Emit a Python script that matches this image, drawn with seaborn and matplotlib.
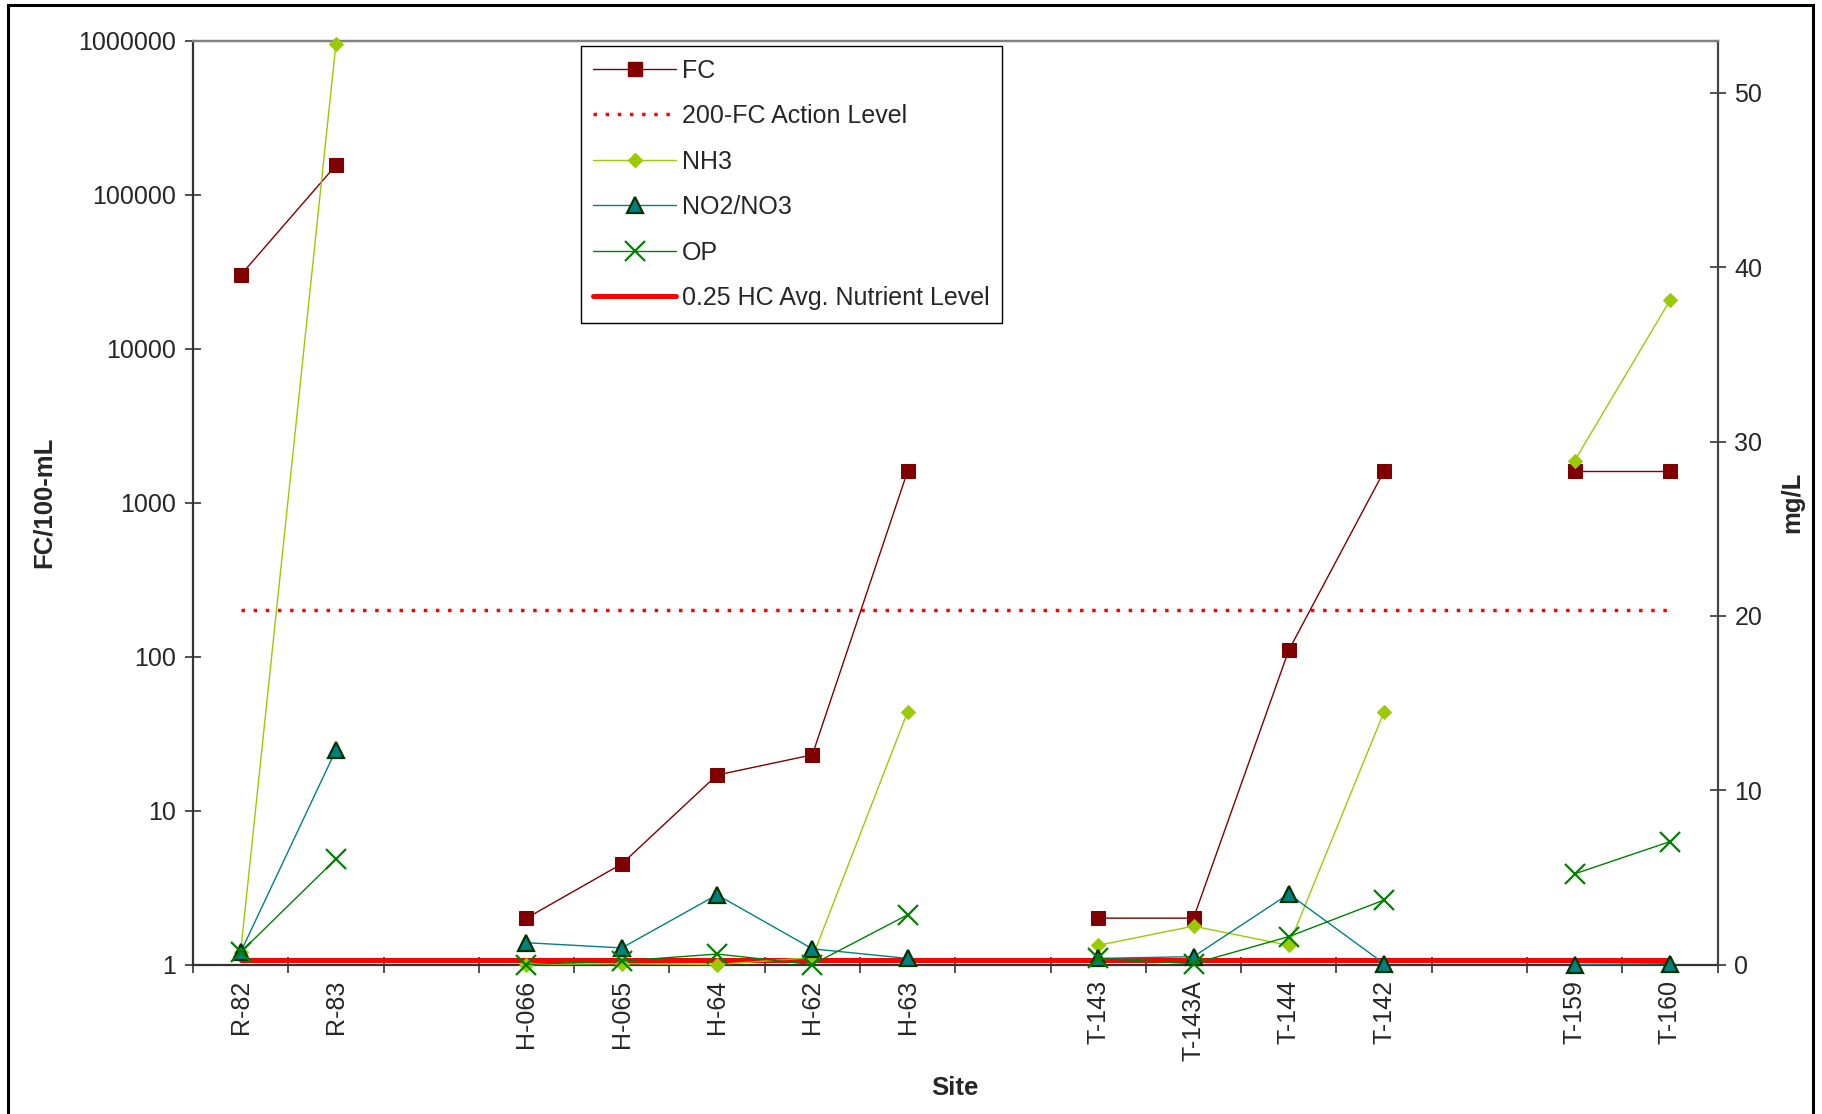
import numpy as np
import pandas as pd
import matplotlib
matplotlib.use("Agg")
import matplotlib.pyplot as plt
import seaborn as sns
from matplotlib.lines import Line2D
from matplotlib.patches import Rectangle
from matplotlib.ticker import FixedLocator, FixedFormatter, NullLocator

# ---------------- data ----------------
sites = ["R-82", "R-83", "", "H-066", "H-065", "H-64", "H-62", "H-63", "",
         "T-143", "T-143A", "T-144", "T-142", "", "T-159", "T-160"]
fc = [30000, 155000, np.nan, 2, 4.5, 17, 23, 1600, np.nan,
      2, 2, 110, 1600, np.nan, 1600, 1600]
action_level = [200] * 16
nh3 = [0.7, 52.8, np.nan, 0.0, 0.05, 0.0, 0.4, 14.5, np.nan,
       1.1, 2.2, 1.1, 14.5, np.nan, 28.9, 38.1]
no2no3 = [0.7, 12.3, np.nan, 1.25, 0.95, 4.0, 0.9, 0.35, np.nan,
          0.35, 0.45, 4.05, 0.05, np.nan, 0.0, 0.05]
op = [0.7, 6.05, np.nan, 0.0, 0.2, 0.6, 0.0, 2.85, np.nan,
      0.35, 0.05, 1.6, 3.7, np.nan, 5.2, 7.05]
hc_level = [0.25] * 16
left_ticks = [1, 10, 100, 1000, 10000, 100000, 1000000]
right_ticks = [0, 10, 20, 30, 40, 50]

# ---------------- style ----------------
sns.set_theme(style="white")
plt.rcParams["font.family"] = ["Liberation Sans", "DejaVu Sans"]
FS = 18

fig = plt.figure(figsize=(18.22, 11.14), dpi=100)
fig.patch.set_facecolor("white")
ax = fig.add_axes([0.1059, 0.1342, 0.8368, 0.8293])
ax.set_yscale("log")
ax2 = ax.twinx()

x = np.arange(len(sites))
seg = np.cumsum([s == "" for s in sites])


def draw(axis, values, broken=True, **kw):
    df = pd.DataFrame({"x": x, "y": values,
                       "seg": seg if broken else np.zeros(len(x), int)}).dropna()
    sns.lineplot(data=df, x="x", y="y", units="seg", estimator=None,
                 ax=axis, legend=False, **kw)


# left axis series
draw(ax, action_level, broken=False, color="#FF0000", lw=2.5,
     dashes=(1, 2.5), zorder=2)
draw(ax, fc, color="#800000", lw=1.0, marker="s", markersize=10,
     markerfacecolor="#800000", markeredgecolor="#800000", zorder=3)

# right axis series
draw(ax2, hc_level, broken=False, color="#FF0000", lw=3.6, zorder=1,
     clip_on=False)
draw(ax2, nh3, color="#99CC00", lw=1.0, marker="D", markersize=7.5,
     markerfacecolor="#99CC00", markeredgecolor="#99CC00", zorder=3,
     clip_on=False)
draw(ax2, no2no3, color="#008080", lw=1.0, marker="^", markersize=11.5,
     markerfacecolor="#008080", markeredgecolor="#003300", mew=1.6,
     zorder=4, clip_on=False)
draw(ax2, op, color="#008000", lw=1.0, marker="x", markersize=14,
     markeredgecolor="#008000", mew=1.6, zorder=5, clip_on=False)

# ---------------- axes ----------------
ax.set_xlim(-0.5, len(sites) - 0.5)
ax.set_ylim(1, 1e6)
ax2.set_ylim(0, 53)

lab_pos = [i for i, s in enumerate(sites) if s]
ax.xaxis.set_major_locator(FixedLocator(lab_pos))
ax.xaxis.set_major_formatter(FixedFormatter([sites[i] for i in lab_pos]))
ax.xaxis.set_minor_locator(FixedLocator(np.arange(-0.5, len(sites), 1.0)))
ax.tick_params(axis="x", which="major", length=0, labelsize=FS,
               labelrotation=90, pad=11, bottom=True)
ax.tick_params(axis="x", which="minor", direction="inout", length=12,
               width=1.2, color="#333333", bottom=True)

ax.yaxis.set_major_locator(FixedLocator(left_ticks))
ax.yaxis.set_major_formatter(FixedFormatter([str(t) for t in left_ticks]))
ax.yaxis.set_minor_locator(NullLocator())
ax.tick_params(axis="y", which="major", direction="inout", length=12,
               width=1.2, color="#333333", labelsize=FS, pad=6, left=True)

ax2.yaxis.set_major_locator(FixedLocator(right_ticks))
ax2.yaxis.set_major_formatter(FixedFormatter([str(t) for t in right_ticks]))
ax2.tick_params(axis="y", which="major", direction="inout", length=12,
                width=1.2, color="#333333", labelsize=FS, pad=6, right=True)

for name in ["left", "bottom"]:
    ax.spines[name].set_color("#333333")
    ax.spines[name].set_linewidth(1.6)
ax.spines["top"].set_color("#808080")
ax.spines["top"].set_linewidth(1.6)
ax.spines["right"].set_visible(False)
for name in ["left", "bottom"]:
    ax2.spines[name].set_visible(False)
ax2.spines["top"].set_color("#808080")
ax2.spines["top"].set_linewidth(1.6)
ax2.spines["right"].set_color("#444444")
ax2.spines["right"].set_linewidth(1.6)

ax.set_xlabel("Site", fontsize=FS + 0.5, fontweight="bold")
ax.xaxis.label.set_va("center")
ax.xaxis.set_label_coords(0.5, -0.1337)
ax.set_ylabel("FC/100-mL", fontsize=FS + 0.5, fontweight="bold")
ax.yaxis.label.set_va("center")
ax.yaxis.set_label_coords(-0.0977, 0.5)
ax2.set_ylabel("mg/L", fontsize=FS + 0.5, fontweight="bold")
ax2.yaxis.label.set_va("center")
ax2.yaxis.set_label_coords(1.0489, 0.5)

# ---------------- legend ----------------
handles = [
    Line2D([], [], color="#800000", lw=1.0, marker="s", markersize=10,
           markerfacecolor="#800000", markeredgecolor="#800000"),
    Line2D([], [], color="#FF0000", lw=2.5, dashes=(1, 2.5)),
    Line2D([], [], color="#99CC00", lw=1.0, marker="D", markersize=7.5,
           markerfacecolor="#99CC00", markeredgecolor="#99CC00"),
    Line2D([], [], color="#008080", lw=1.0, marker="^", markersize=11.5,
           markerfacecolor="#008080", markeredgecolor="#003300", mew=1.6),
    Line2D([], [], color="#008000", lw=1.0, marker="x", markersize=14,
           markeredgecolor="#008000", mew=1.6),
    Line2D([], [], color="#FF0000", lw=3.6),
]
labels = ["FC", "200-FC Action Level", "NH3", "NO2/NO3", "OP",
          "0.25 HC Avg. Nutrient Level"]
leg = ax2.legend(handles, labels, loc="upper left",
                 bbox_to_anchor=(0.2545, 0.994), borderaxespad=0,
                 fontsize=FS, frameon=True, fancybox=False, framealpha=1,
                 edgecolor="black", handlelength=3.3, handletextpad=0.25,
                 labelspacing=0.86, borderpad=0.5, numpoints=1)
leg.get_frame().set_linewidth(1.0)
leg.set_zorder(10)

# outer frame around the figure
fig.add_artist(Rectangle((8 / 1822, -0.01), (1813 - 8) / 1822, 1.0055,
                         transform=fig.transFigure, fill=False,
                         lw=2.2, edgecolor="black"))

fig.savefig("out.png", dpi=100, facecolor="white")
